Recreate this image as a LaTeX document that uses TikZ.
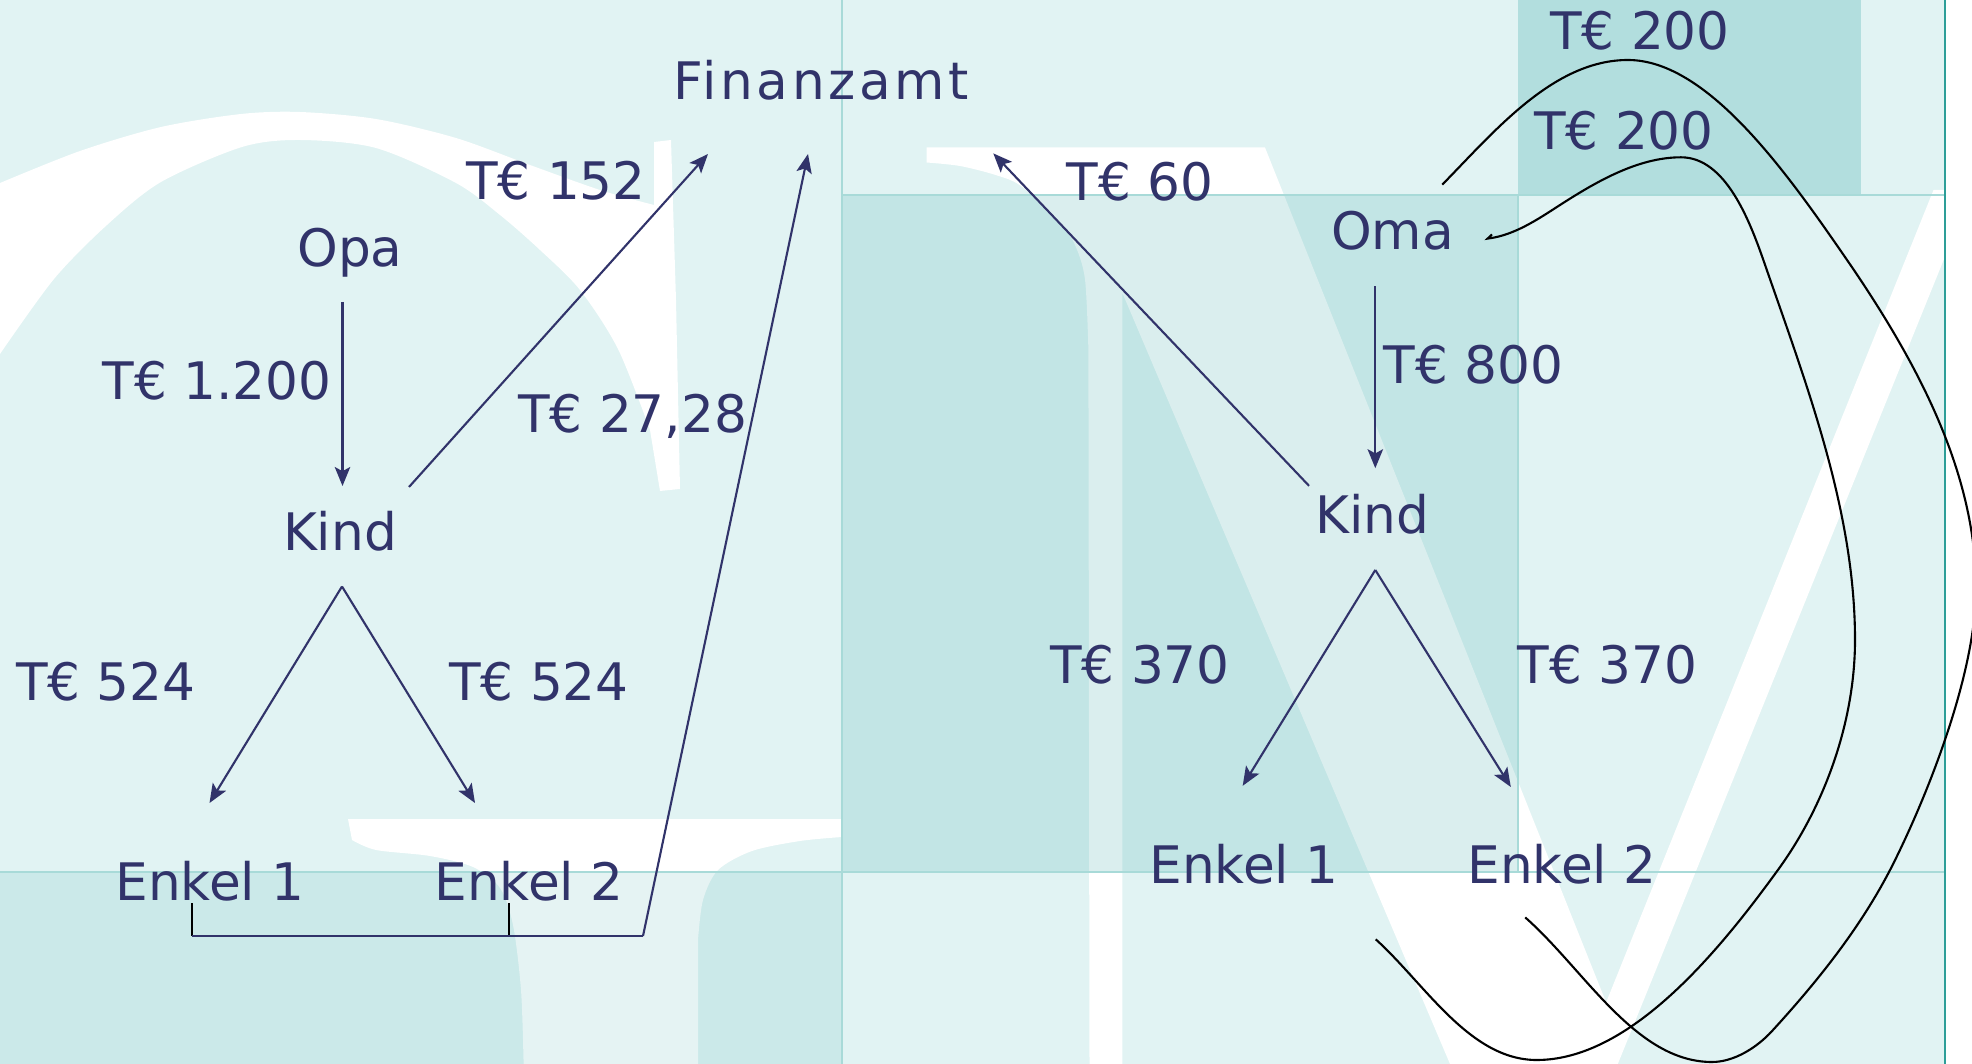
\documentclass[tikz,border=0pt]{standalone}
\usepackage{fontspec}
\setmainfont{DejaVu Sans}
\newfontfamily\spacedfont[LetterSpace=7]{DejaVu Sans}
\usetikzlibrary{arrows.meta}
\definecolor{navy}{HTML}{31336A}
\definecolor{bgl}{HTML}{E1F3F3}
\definecolor{ovl}{HTML}{48AEAE}
\definecolor{gridc}{HTML}{A8DAD8}
\definecolor{brd}{HTML}{2E9E98}
\begin{document}
\begin{tikzpicture}[x=0.01cm,y=-0.01cm,
  lbl/.style={anchor=base,inner sep=0pt,text=navy,font=\fontsize{14.7}{17}\selectfont},
  arr/.style={draw=navy,line width=0.6pt,-{Stealth[length=5.4pt,width=4.4pt,inset=1.2pt]}},
  navyline/.style={draw=navy,line width=0.6pt},
  flow/.style={draw=black,line width=0.6pt},
  gridl/.style={draw=gridc,line width=0.6pt},
]
\useasboundingbox (0,0) rectangle (1972,1064);
% ---------- background ----------
\fill[bgl] (0,0) rectangle (1972,1064);
% big white letter, left panel
\fill[white] plot[smooth] coordinates {(0,183) (80,151) (161,127) (241,114) (300,112) (376,119) (456,138) (530,165) (600,190) (654,205)}
  -- (654,142) -- (671,140) -- (676,300) -- (680,489) -- (660,491)
  -- plot[smooth] coordinates {(650,430) (618,349) (580,290) (540,250) (500,215) (456,183) (376,148) (300,140) (242,147) (161,182) (107,225) (54,279) (0,354)} -- cycle;
% white letter top, bottom left
\fill[white] (348,819) -- (842,819) -- (842,837)
  -- plot[smooth] coordinates {(842,837) (800,841) (752,851) (718,870) (703,900) (698,940)}
  -- (698,1064) -- (523.6,1064)
  -- plot[smooth] coordinates {(523.6,1064) (521,990) (513,925) (500,888) (473,867) (430,856) (376,850) (352,840)} -- cycle;
% big white letter, right panel
\fill[white] (926.6,147.5) -- (1265,147.5) -- (1606.1,1002.4) -- (1933.5,190) -- (1972,190)
  -- (1617.8,1064) -- (1450,1064) -- (1122.4,293) -- (1122.4,1064) -- (1089.5,1064) -- (1088.4,350)
  -- plot[smooth] coordinates {(1088.4,350) (1084.9,278.6) (1074,242.9) (1056,217.9) (1020.6,185.7) (995.6,175) (960,166) (926.6,162.5)} -- cycle;
\fill[white] (1945,0) rectangle (1972,1064);
% translucent panels
\fill[ovl,fill opacity=0.2] (842,195) rectangle (1518,872);
\fill[ovl,fill opacity=0.3] (1518,0) rectangle (1861,195);
\fill[ovl,fill opacity=0.14] (0,872) rectangle (842,1064);
% panel lines
\draw[gridl] (842,0) -- (842,1064);
\draw[gridl] (842,195) -- (1945,195);
\draw[gridl] (0,872) -- (1945,872);
\draw[gridl] (1518,195) -- (1518,872);
\draw[brd,line width=0.8pt] (1945,0) -- (1945,1064);
% ---------- texts ----------
\node[lbl,font=\spacedfont\fontsize{14.7}{17}\selectfont] (fin) at (821,100) {Finanzamt};
\node[lbl] (opa) at (350,267) {Opa};
\node[lbl] (kindL) at (340,550.5) {Kind};
\node[lbl] (e1L) at (210,900.3) {Enkel 1};
\node[lbl] (e2L) at (529,900.3) {Enkel 2};
\node[lbl] (v1200) at (217,400) {T€ 1.200};
\node[lbl] (v152) at (556,199.8) {T€ 152};
\node[lbl] (v2728) at (632.6,433) {T€ 27,28};
\node[lbl] (v524a) at (105.8,700) {T€ 524};
\node[lbl] (v524b) at (539,700) {T€ 524};
\node[lbl] (oma) at (1392.5,249.7) {Oma};
\node[lbl] (kindR) at (1372.6,534) {Kind};
\node[lbl] (e1R) at (1244,883.5) {Enkel 1};
\node[lbl] (e2R) at (1562,883.5) {Enkel 2};
\node[lbl] (v60) at (1140,200.2) {T€ 60};
\node[lbl] (v800) at (1473.6,383.4) {T€ 800};
\node[lbl] (v370a) at (1140,683.3) {T€ 370};
\node[lbl] (v370b) at (1607.7,683.3) {T€ 370};
\node[lbl] (v200a) at (1640,49.5) {T€ 200};
\node[lbl] (v200b) at (1624,149.3) {T€ 200};
% ---------- connector ends ----------
\coordinate (opaOut) at (342.5,302);
\coordinate (kindLIn) at (342.5,486);
\coordinate (kindLUp) at (409,487);
\coordinate (finIn1) at (708,154);
\coordinate (finIn2) at (808,154);
\coordinate (kindLDown) at (342,586.5);
\coordinate (e1LIn) at (209.5,803);
\coordinate (e2LIn) at (475,803);
\coordinate (e1LOut) at (191.7,903);
\coordinate (e2LOut) at (508.6,903);
\coordinate (brL) at (191.7,936);
\coordinate (brM) at (508.6,936);
\coordinate (brR) at (643,936);
\coordinate (omaOut) at (1375.3,286.4);
\coordinate (kindRIn) at (1375.3,468.2);
\coordinate (kindRUp) at (1309,485.8);
\coordinate (finIn3) at (993.3,153.4);
\coordinate (kindRDown) at (1375.3,570);
\coordinate (e1RIn) at (1242.7,785.8);
\coordinate (e2RIn) at (1510.8,787);
\coordinate (e1ROut) at (1375.7,939.3);
\coordinate (e2ROut) at (1525.2,917.4);
\coordinate (omaIn1) at (1442.3,184.6);
\coordinate (omaIn2) at (1487.6,238.6);
\coordinate (hookEnd) at (1492,234.5);
% ---------- left connectors ----------
\draw[arr] (opaOut) -- (kindLIn);
\draw[arr] (kindLUp) -- (finIn1);
\draw[arr] (kindLDown) -- (e1LIn);
\draw[arr] (kindLDown) -- (e2LIn);
\draw[flow] (e1LOut) -- (brL);
\draw[flow] (e2LOut) -- (brM);
\draw[navyline] (brL) -- (brR);
\draw[arr] (brR) -- (finIn2);
% ---------- right connectors ----------
\draw[arr] (omaOut) -- (kindRIn);
\draw[arr] (kindRUp) -- (finIn3);
\draw[arr] (kindRDown) -- (e1RIn);
\draw[arr] (kindRDown) -- (e2RIn);
% outer loop: Enkel 2 -> Oma
\draw[flow] (e2ROut)
  .. controls (1584.8,969.9) and (1635.5,1062) .. (1712,1062)
  .. controls (1734,1062) and (1756.8,1047.6) .. (1771.7,1031.4)
  .. controls (1819,979.8) and (1863.1,924.5) .. (1894.2,861.8)
  .. controls (1929.7,790.1) and (1976,672) .. (1976,588)
  .. controls (1976,471.4) and (1916.1,361.9) .. (1852.4,267.8)
  .. controls (1792,180) and (1710,60) .. (1628,60)
  .. controls (1553.5,60) and (1494.5,131.4) .. (omaIn1);
% inner loop: Enkel 1 -> Oma
\draw[flow] (e1ROut)
  .. controls (1425.3,984.2) and (1469.7,1060) .. (1536.7,1060)
  .. controls (1630,1060) and (1718.6,952) .. (1778.9,868.6)
  .. controls (1825.7,803.8) and (1855,720) .. (1855,640)
  .. controls (1855,511) and (1807,386) .. (1764.8,264.2)
  .. controls (1750.1,221.7) and (1726,157.3) .. (1681,157.3)
  .. controls (1638,157.3) and (1596.1,181.8) .. (1560,205)
  .. controls (1537.7,219.4) and (1514.2,235.4) .. (omaIn2)
  -- (hookEnd);
\end{tikzpicture}
\end{document}
